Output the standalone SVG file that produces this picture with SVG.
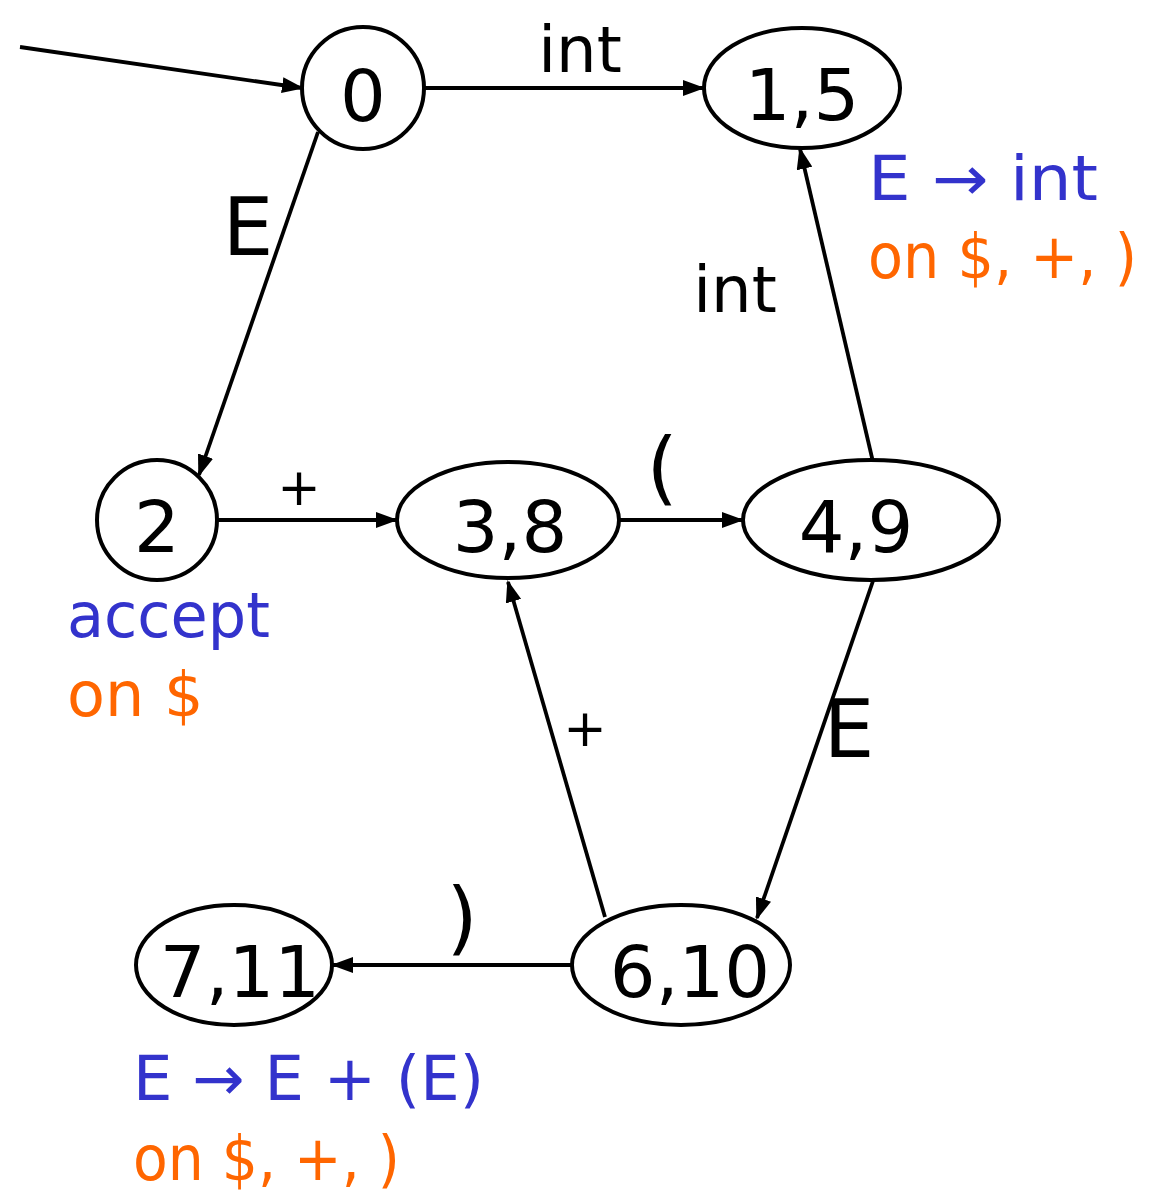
<svg xmlns="http://www.w3.org/2000/svg" width="1162" height="1193" viewBox="0 0 1162 1193">
<style>
.node{fill:#fff;stroke:#000;stroke-width:4}
.nl{font-family:"DejaVu Sans",sans-serif;font-size:72px;fill:#000;text-anchor:middle}
.el{font-family:"DejaVu Sans",sans-serif;fill:#000;text-anchor:middle}
.edge{stroke:#000;stroke-width:3.8;fill:none;marker-end:url(#ah)}
.blue{font-family:"DejaVu Sans",sans-serif;font-size:62px;fill:#3333cc}
.orange{font-family:"DejaVu Sans",sans-serif;font-size:62px;fill:#ff6600}
</style>
<defs>
<marker id="ah" markerUnits="userSpaceOnUse" markerWidth="22" markerHeight="16" refX="20" refY="8" orient="auto">
<path d="M0,0 L22,8 L0,16 Z" fill="#000"/>
</marker>
</defs>
<g id="edges">
<line class="edge" x1="20" y1="47" x2="302" y2="88"/>
<line class="edge" x1="424" y1="88" x2="703" y2="88"/>
<line class="edge" x1="318" y1="132" x2="199" y2="475"/>
<line class="edge" x1="217" y1="520" x2="396" y2="520"/>
<line class="edge" x1="619" y1="520" x2="742" y2="520"/>
<line class="edge" x1="873" y1="462" x2="800" y2="149"/>
<line class="edge" x1="873" y1="581" x2="757" y2="918"/>
<line class="edge" x1="605" y1="917" x2="508" y2="582"/>
<line class="edge" x1="572" y1="965" x2="333" y2="965"/>
<text class="el" x="580" y="72" font-size="64">int</text>
<text class="el" x="248" y="255" font-size="80">E</text>
<text class="el" x="735" y="312" font-size="64">int</text>
<text class="el" x="299" y="505" font-size="52">+</text>
<text class="el" x="662" y="495" font-size="80">(</text>
<text class="el" x="849" y="757" font-size="80">E</text>
<text class="el" x="585" y="746" font-size="52">+</text>
<text class="el" x="462" y="945" font-size="80">)</text>
</g>
<g id="n0"><circle class="node" cx="363" cy="88" r="61"/><text class="nl" x="363" y="121">0</text></g>
<g id="n15"><ellipse class="node" cx="802" cy="88" rx="98" ry="60"/><text class="nl" x="802" y="120">1,5</text></g>
<g id="n2"><circle class="node" cx="157" cy="520" r="60"/><text class="nl" x="157" y="552">2</text></g>
<g id="n38"><ellipse class="node" cx="508" cy="520" rx="111" ry="58"/><text class="nl" x="510" y="552">3,8</text></g>
<g id="n49"><ellipse class="node" cx="871" cy="520" rx="128" ry="60"/><text class="nl" x="856" y="552">4,9</text></g>
<g id="n610"><ellipse class="node" cx="681" cy="965" rx="109" ry="60"/><text class="nl" x="690" y="997">6,10</text></g>
<g id="n711"><ellipse class="node" cx="234" cy="965" rx="98" ry="60"/><text class="nl" x="240" y="997">7,11</text></g>
<g id="notes">
<text class="blue" x="868" y="200" textLength="230" lengthAdjust="spacingAndGlyphs">E → int</text>
<text class="orange" x="868" y="278" textLength="269" lengthAdjust="spacingAndGlyphs">on $, +, )</text>
<text class="blue" x="67" y="637" textLength="203" lengthAdjust="spacingAndGlyphs">accept</text>
<text class="orange" x="67" y="716">on $</text>
<text class="blue" x="133" y="1100" textLength="351" lengthAdjust="spacingAndGlyphs">E → E + (E)</text>
<text class="orange" x="133" y="1180" textLength="267" lengthAdjust="spacingAndGlyphs">on $, +, )</text>
</g>
</svg>
